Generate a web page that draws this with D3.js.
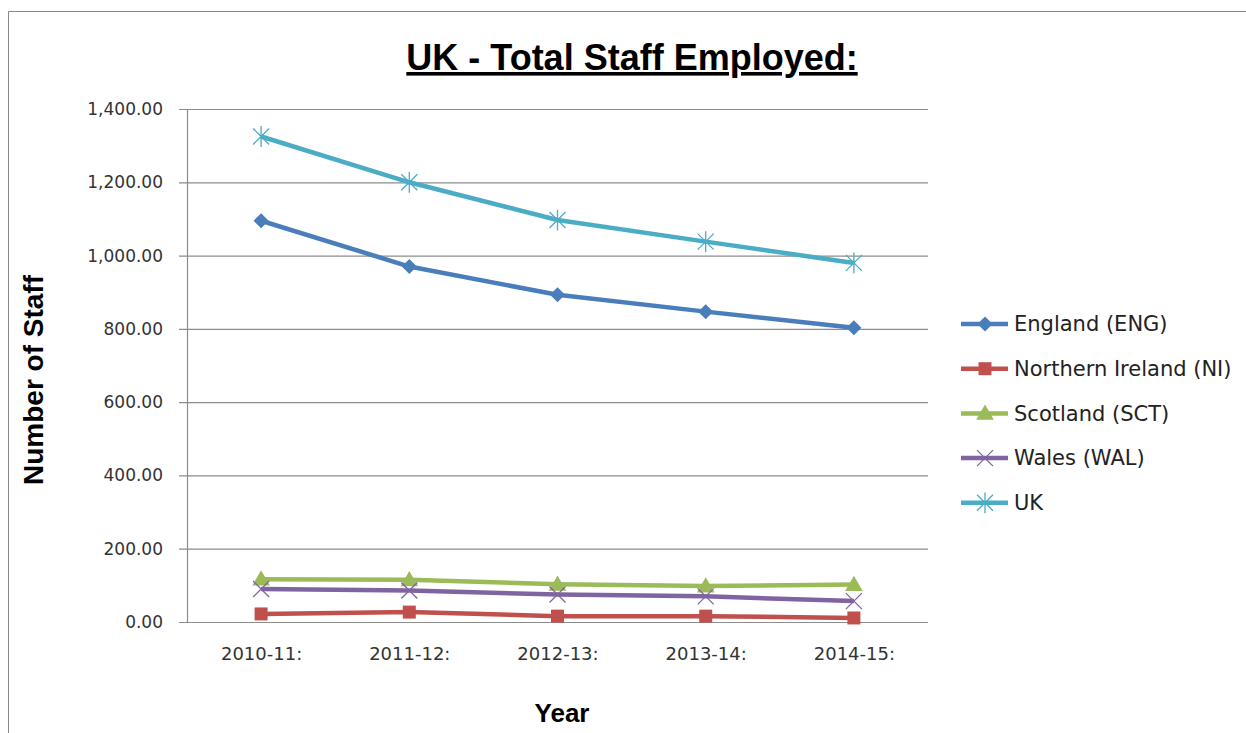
<!DOCTYPE html>
<html><head><meta charset="utf-8">
<script src="https://cdn.jsdelivr.net/npm/d3@7"></script>
<style>body{margin:0;background:#fff;} svg{display:block;}</style>
</head><body>
<svg id="c" width="1246" height="733"></svg>
<script>
const categories = ["2010-11:", "2011-12:", "2012-13:", "2013-14:", "2014-15:"];
const seriesNames = ["England (ENG)", "Northern Ireland (NI)", "Scotland (SCT)", "Wales (WAL)", "UK"];
const england = [1095, 970, 893, 847, 803];
const northernIreland = [22, 27, 16, 16, 11];
const scotland = [117, 115, 103, 98, 102];
const wales = [90, 86, 75, 70, 57];
const uk = [1325, 1200, 1097, 1038, 980];
const yTicks = [0, 200, 400, 600, 800, 1000, 1200, 1400];
const colors = ["#4A7EBB", "#C0504D", "#9BBB59", "#8064A2", "#4BACC6"];
const markers = ["diamond", "square", "triangle", "x", "star"];
const allSeries = [england, northernIreland, scotland, wales, uk];

const svg = d3.select("#c");
const font = "'Liberation Sans', Arial, sans-serif";
const tickFont = "'DejaVu Sans', sans-serif";
// frame
svg.append("path").attr("d","M8.5,733 V11.5 H1246").attr("fill","none").attr("stroke","#888").attr("stroke-width",1);

const L = 187, R = 928, T = 109, B = 622;
const x = d3.scalePoint().domain(categories).range([L, R]).padding(0.5);
const y = d3.scaleLinear().domain([0, 1400]).range([B, T]);

// grid
svg.append("g").selectAll("line").data(yTicks).join("line")
  .attr("x1", L-8).attr("x2", R).attr("y1", d=>y(d)+0.5).attr("y2", d=>y(d)+0.5)
  .attr("stroke", "#8c8c8c").attr("stroke-width", 1.2);
// y axis
const yAxis = d3.axisLeft(y).tickValues(yTicks).tickFormat(d3.format(",.2f")).tickSize(0).tickPadding(24);
const ga = svg.append("g").attr("transform", `translate(${L},0)`).call(yAxis);
ga.select(".domain").attr("stroke","#8c8c8c").attr("stroke-width",1.2);
ga.selectAll("text").attr("font-family", tickFont).attr("font-size", 17).attr("fill","#333");
// x axis labels
const xAxis = d3.axisBottom(x).tickSize(0).tickPadding(25);
const gx = svg.append("g").attr("transform", `translate(0,${B})`).call(xAxis);
gx.select(".domain").remove();
gx.selectAll("text").attr("font-family", tickFont).attr("font-size", 18).attr("fill","#333");

function markerPath(type, s) {
  switch (type) {
    case "diamond": return `M0,${-s}L${s},0L0,${s}L${-s},0Z`;
    case "square": return `M${-s},${-s}H${s}V${s}H${-s}Z`;
    case "triangle": return `M0,${-s*1.1}L${s*1.1},${s*0.8}L${-s*1.1},${s*0.8}Z`;
    case "x": return `M${-s},${-s}L${s},${s}M${-s},${s}L${s},${-s}`;
    case "star": return `M${-s},${-s}L${s},${s}M${-s},${s}L${s},${-s}M0,${-s*1.3}V${s*1.3}`;
  }
}
const msize = t => t==="square"?6.5:(t==="diamond"?7.5:8);
const line = d3.line().x((d,i)=>x(categories[i])).y(d=>y(d));
allSeries.forEach((vals, si) => {
  const g = svg.append("g");
  g.append("path").attr("d", line(vals)).attr("fill","none").attr("stroke", colors[si]).attr("stroke-width", 4.5).attr("stroke-linejoin","round");
  const filled = markers[si] !== "x" && markers[si] !== "star";
  g.selectAll("path.m").data(vals).join("path").attr("class","m")
    .attr("transform", (d,i)=>`translate(${x(categories[i])},${y(d)})`)
    .attr("d", markerPath(markers[si], msize(markers[si])))
    .attr("fill", filled ? colors[si] : "none")
    .attr("stroke", colors[si]).attr("stroke-width", filled ? 0 : 1.3);
});

// legend
const lg = svg.append("g");
seriesNames.forEach((n, i) => {
  const yy = 324 + i*44.7;
  lg.append("line").attr("x1", 961).attr("x2", 1008).attr("y1", yy).attr("y2", yy).attr("stroke", colors[i]).attr("stroke-width", 4.5);
  const filled = markers[i] !== "x" && markers[i] !== "star";
  lg.append("path").attr("transform", `translate(985,${yy})`).attr("d", markerPath(markers[i], msize(markers[i])))
    .attr("fill", filled ? colors[i] : "none").attr("stroke", colors[i]).attr("stroke-width", filled?0:1.3);
  lg.append("text").attr("x", 1014).attr("y", yy).attr("dy","0.35em").attr("font-family", tickFont).attr("font-size", 21).attr("fill","#222").text(n);
});

// titles
svg.append("text").attr("x", 632).attr("y", 70).attr("text-anchor","middle").attr("font-family", font)
  .attr("font-weight","bold").attr("font-size", 36).attr("fill","#000").attr("text-decoration","underline").text("UK - Total Staff Employed:");
svg.append("text").attr("x", 562).attr("y", 722).attr("text-anchor","middle").attr("font-family", font)
  .attr("font-weight","bold").attr("font-size", 26).attr("fill","#000").text("Year");
svg.append("text").attr("transform","translate(43,380) rotate(-90)").attr("text-anchor","middle").attr("font-family", font)
  .attr("font-weight","bold").attr("font-size", 28).attr("fill","#000").text("Number of Staff");
</script>
</body></html>
